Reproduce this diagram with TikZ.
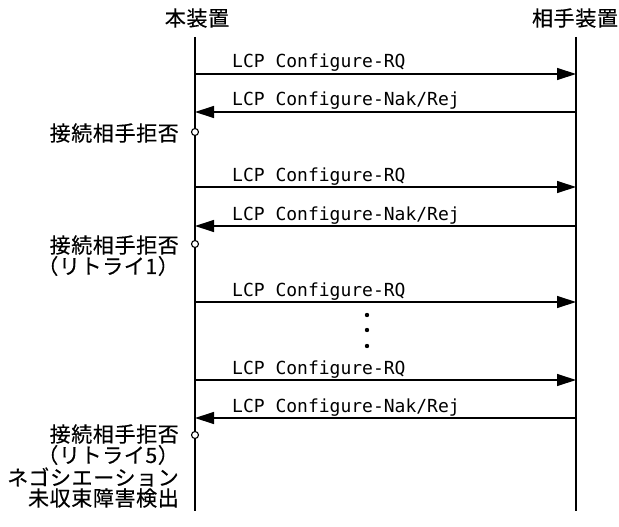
\documentclass[tikz,border=0pt]{standalone}
\usepackage{fontspec}
\newfontfamily\jpfont[LetterSpace=3, FakeBold=0.4]{Noto Sans CJK JP}
\newfontfamily\lcpfont{DejaVu Sans Mono}
\usetikzlibrary{arrows.meta,positioning}

\begin{document}
\begin{tikzpicture}[x=1pt, y=-1pt,
    every node/.style={inner sep=0pt},
    dev/.style={font=\jpfont\fontsize{21}{21}\selectfont},
    note/.style={font=\jpfont\fontsize{21}{21}\selectfont, anchor=east},
    msg/.style={font=\lcpfont\fontsize{18}{18}\selectfont, anchor=base west},
    life/.style={line width=1.2pt},
    call/.style={line width=1.2pt, -{Triangle[length=19pt, width=12pt]}},
    hit/.style={draw, circle, line width=1.1pt, minimum size=7pt, fill=white}]
    \useasboundingbox (0,0) rectangle (619,527);
    % devices and lifelines
    \node[dev] (me) at (197,18) {本装置};
    \node[dev] (peer) at (575,18) {相手装置};
    \coordinate (meTop) at (195,37); \coordinate (meEnd) at (195,511);
    \coordinate (peerTop) at (576,37); \coordinate (peerEnd) at (576,511);
    \draw[life] (meTop) -- (meEnd);
    \draw[life] (peerTop) -- (peerEnd);
    % message end points
    \foreach \i/\y in {1/74, 2/112, 3/187, 4/226, 5/302, 6/380, 7/418} {
        \coordinate (a\i) at (195,\y);
        \coordinate (b\i) at (576,\y);
    }
    % requests
    \foreach \i in {1,3,5,6} {
        \draw[call] (a\i) -- (b\i);
        \node[msg] at ([xshift=37pt, yshift=6pt]a\i) {LCP Configure-RQ};
    }
    % replies
    \foreach \i in {2,4,7} {
        \draw[call] (b\i) -- (a\i);
        \node[msg] at ([xshift=37pt, yshift=6pt]a\i) {LCP Configure-Nak/Rej};
    }
    % omitted retries
    \foreach \y in {315,330,346} \fill (367,\y) circle (2.2pt);
    % rejection points
    \node[hit] (c1) at (195,132) {};
    \node[hit] (c2) at (195,244) {};
    \node[hit] (c3) at (195,435) {};
    \node[note] (rej1) at (179,133) {接続相手拒否};
    \node[note] (rej2) at (179,245) {接続相手拒否};
    \node[note] (try1) at (179,266) {（リトライ1）};
    \node[note] (rej3) at (179,434) {接続相手拒否};
    \node[note] (try5) at (179,455) {（リトライ5）};
    \node[note] (fail1) at (179,477) {ネゴシエーション};
    \node[note] (fail2) at (179,498) {未収束障害検出};
\end{tikzpicture}
\end{document}
